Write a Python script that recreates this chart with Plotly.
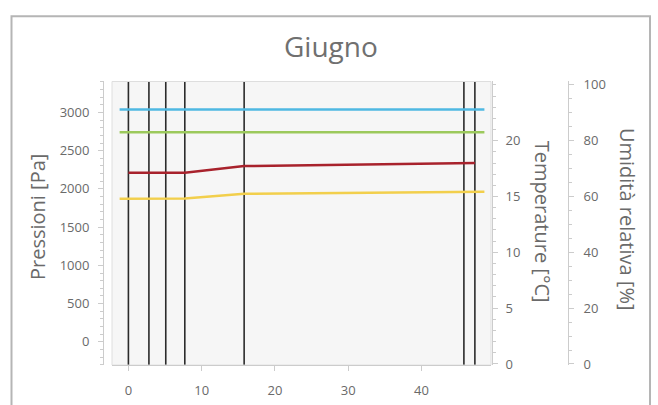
import plotly.graph_objects as go

# Wall layer interfaces (cm) and the two air-side boundary points
interfaces = [0, 2.8, 5.1, 7.7, 15.8, 45.8, 47.3]
x_air = [-1.2, 0, 2.8, 5.1, 7.7, 15.8, 45.8, 47.3, 48.6]

temperature = [22.8] * len(x_air)                       # °C
p_sat = [2740] * len(x_air)                             # Pa
p_vap = [1872, 1873, 1873, 1874, 1875, 1937, 1960, 1962, 1962]  # Pa
rel_hum = [68.5, 68.5, 68.5, 68.5, 70.9, 71.8, 72.0]    # % (inside the wall)

W, H = 658, 405
px = lambda v: v / W
py = lambda v: (H - v) / H

FONT = "Open Sans"
TXT = "#6a6a6a"
AX = "#cccccc"

fig = go.Figure()
fig.add_trace(go.Scatter(x=x_air, y=temperature, yaxis="y2", mode="lines",
                         line=dict(color="#4fb8e2", width=2.5), name="Temperatura"))
fig.add_trace(go.Scatter(x=x_air, y=p_sat, yaxis="y", mode="lines",
                         line=dict(color="#9cc95c", width=2.5), name="Pressione di saturazione"))
fig.add_trace(go.Scatter(x=interfaces, y=rel_hum, yaxis="y3", mode="lines",
                         line=dict(color="#a8222c", width=2.5), name="Umidità relativa"))
fig.add_trace(go.Scatter(x=x_air, y=p_vap, yaxis="y", mode="lines",
                         line=dict(color="#f2cf4c", width=2.5), name="Pressione di vapore"))

shapes = []
for b in interfaces:
    shapes.append(dict(type="line", xref="x", yref="y domain", x0=b, x1=b, y0=0, y1=1,
                       line=dict(color="#2b2b2b", width=1.6), layer="below"))
# plot area border
shapes.append(dict(type="rect", xref="x domain", yref="y domain", x0=0, x1=1, y0=0, y1=1,
                   line=dict(color="#dedede", width=1), layer="below"))
# panel frame
shapes.append(dict(type="rect", xref="paper", yref="paper", x0=px(11.5), x1=px(650),
                   y0=-0.1, y1=py(10.5), line=dict(color="#b5b5b5", width=2)))

tickfont = dict(family=FONT, size=13, color=TXT)
common = dict(showgrid=False, zeroline=False, showline=True, linecolor=AX, linewidth=1,
              ticks="outside", ticklen=5, tickcolor=AX, tickfont=tickfont)

fig.update_layout(
    width=W, height=H, margin=dict(l=0, r=0, t=0, b=0),
    paper_bgcolor="white", plot_bgcolor="#f6f6f6", showlegend=False,
    shapes=shapes,
    xaxis=dict(domain=[px(112), px(491)], range=[-2.24, 49.5], tick0=0, dtick=10,
               anchor="y", ticklabelstandoff=8, **common),
    yaxis=dict(domain=[py(371), py(78)], range=[-304, 3405], tick0=0, dtick=500,
               anchor="free", position=px(103), side="left", ticklabelstandoff=6,
               minor=dict(dtick=100, ticklen=3, tickcolor=AX, ticks="outside"), **common),
    yaxis2=dict(overlaying="y", range=[-0.1, 25.3], tickvals=[0, 5, 10, 15, 20],
                anchor="free", position=px(492), side="right", ticklabelstandoff=5,
                minor=dict(dtick=1, ticklen=3, tickcolor=AX, ticks="outside"), **common),
    yaxis3=dict(overlaying="y", range=[-0.4, 101.2], tick0=0, dtick=20,
                anchor="free", position=px(568), side="right", ticklabelstandoff=7,
                minor=dict(dtick=5, ticklen=3, tickcolor=AX, ticks="outside"), **common),
    annotations=[
        dict(text="Giugno", xref="paper", yref="paper", x=px(331), y=py(41),
             showarrow=False, font=dict(family=FONT, size=28, color="#707070"),
             xanchor="center", yanchor="middle"),
        dict(text="Pressioni [Pa]", xref="paper", yref="paper", x=px(37), y=py(218),
             textangle=-90, showarrow=False, font=dict(family=FONT, size=20, color=TXT),
             xanchor="center", yanchor="middle"),
        dict(text="Temperature [°C]", xref="paper", yref="paper", x=px(542), y=py(223),
             textangle=90, showarrow=False, font=dict(family=FONT, size=20, color=TXT),
             xanchor="center", yanchor="middle"),
        dict(text="Umidità relativa [%]", xref="paper", yref="paper", x=px(627), y=py(220),
             textangle=90, showarrow=False, font=dict(family=FONT, size=20, color=TXT),
             xanchor="center", yanchor="middle"),
    ],
)

fig.write_html("out.html")
